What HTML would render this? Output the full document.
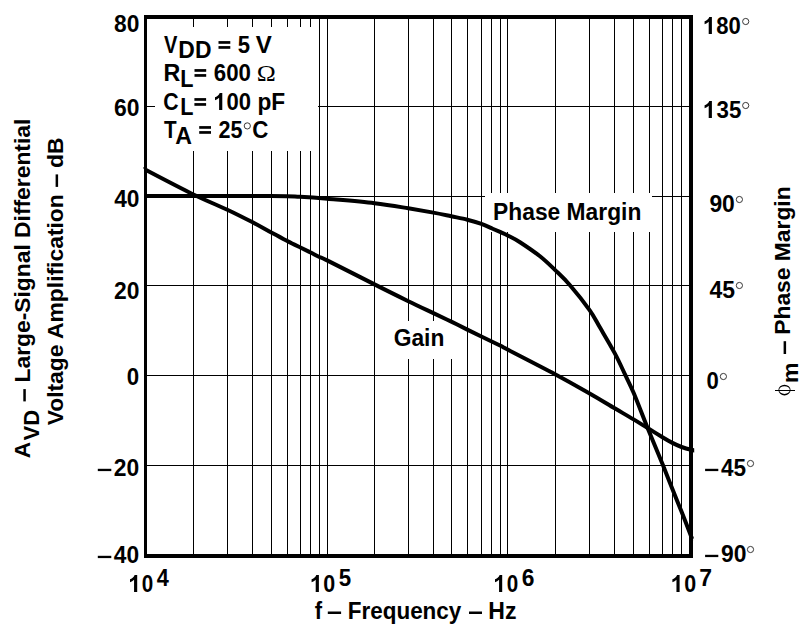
<!DOCTYPE html>
<html><head><meta charset="utf-8"><title>Chart</title>
<style>
html,body{margin:0;padding:0;background:#fff;}
body{width:804px;height:635px;overflow:hidden;}
svg{display:block;}
text{font-family:"Liberation Sans",sans-serif;font-weight:bold;font-size:22px;fill:#000;}
text.sym{font-family:"Liberation Serif",serif;font-weight:normal;}
</style></head><body>
<svg width="804" height="635" viewBox="0 0 804 635">
<defs>
<clipPath id="cc"><rect x="144" y="0" width="550.2" height="635"/></clipPath>

</defs>
<rect x="0" y="0" width="804" height="635" fill="#fff"/>
<g shape-rendering="crispEdges" fill="#000">
<rect x="193" y="17" width="1" height="539"/>
<rect x="227" y="17" width="1" height="539"/>
<rect x="252" y="17" width="1" height="539"/>
<rect x="271" y="17" width="1" height="539"/>
<rect x="287" y="17" width="1" height="539"/>
<rect x="300" y="17" width="1" height="539"/>
<rect x="310" y="17" width="1" height="539"/>
<rect x="319" y="17" width="1" height="539"/>
<rect x="327" y="17" width="1" height="539"/>
<rect x="374" y="17" width="1" height="539"/>
<rect x="408" y="17" width="1" height="539"/>
<rect x="433" y="17" width="1" height="539"/>
<rect x="451" y="17" width="1" height="539"/>
<rect x="467" y="17" width="1" height="539"/>
<rect x="481" y="17" width="1" height="539"/>
<rect x="491" y="17" width="1" height="539"/>
<rect x="500" y="17" width="1" height="539"/>
<rect x="507" y="17" width="1" height="539"/>
<rect x="555" y="17" width="1" height="539"/>
<rect x="589" y="17" width="1" height="539"/>
<rect x="614" y="17" width="1" height="539"/>
<rect x="633" y="17" width="1" height="539"/>
<rect x="649" y="17" width="1" height="539"/>
<rect x="662" y="17" width="1" height="539"/>
<rect x="672" y="17" width="1" height="539"/>
<rect x="681" y="17" width="1" height="539"/>
<rect x="146" y="106" width="545" height="1"/>
<rect x="146" y="196" width="545" height="1"/>
<rect x="146" y="285" width="545" height="1"/>
<rect x="146" y="375" width="545" height="1"/>
<rect x="146" y="465" width="545" height="1"/>
</g>
<g shape-rendering="crispEdges" fill="#fff">
<rect x="155" y="27" width="163" height="124"/>
<rect x="485" y="193" width="167" height="39"/>
<rect x="380" y="321" width="80" height="38"/>
</g>
<g fill="none" stroke="#000" stroke-width="4" stroke-linejoin="round" clip-path="url(#cc)">
<path d="M141.0,167.5 C149.7,172.0 179.0,187.5 193.4,194.5 C207.8,201.5 217.5,205.1 227.3,209.7 C237.1,214.3 244.9,218.3 252.2,222.1 C259.5,225.9 265.4,229.4 271.3,232.6 C277.2,235.8 282.5,238.5 287.3,241.0 C292.1,243.5 296.5,245.6 300.4,247.5 C304.3,249.4 307.4,250.9 310.6,252.5 C313.8,254.1 316.6,255.7 319.4,257.0 C322.2,258.4 318.4,256.0 327.6,260.6 C336.8,265.2 361.1,277.6 374.5,284.4 C387.9,291.2 398.5,296.4 408.3,301.2 C418.1,306.0 426.2,309.7 433.4,313.1 C440.6,316.5 445.6,318.9 451.3,321.6 C457.0,324.4 459.2,325.6 467.3,329.6 C475.4,333.6 493.3,342.2 500.0,345.5 C506.7,348.8 498.2,344.7 507.5,349.5 C516.8,354.3 541.8,367.1 555.5,374.4 C569.2,381.7 579.7,387.8 589.6,393.4 C599.5,399.0 607.4,404.0 614.7,408.3 C622.0,412.6 628.1,416.1 633.6,419.4 C639.1,422.7 642.7,425.0 647.6,428.0 C652.5,431.0 658.8,435.0 662.9,437.5 C667.0,440.0 669.3,441.3 672.4,442.9 C675.5,444.5 678.5,445.9 681.6,447.0 C684.7,448.1 688.6,449.2 691.0,449.8 C693.4,450.4 695.2,450.6 696.0,450.8"/>
<path d="M145.0,196.0 C166.0,196.0 245.2,195.9 271.0,196.0 C296.8,196.1 290.6,196.3 300.0,196.8 C309.4,197.3 315.1,197.7 327.5,198.8 C339.9,199.9 361.0,201.6 374.5,203.2 C388.0,204.8 398.5,206.7 408.3,208.3 C418.1,209.9 426.2,211.3 433.4,212.6 C440.6,213.9 445.6,215.1 451.3,216.3 C457.0,217.5 462.3,218.4 467.3,219.7 C472.3,221.0 477.4,222.5 481.4,223.9 C485.4,225.3 488.2,226.8 491.4,228.2 C494.6,229.6 497.9,231.0 500.6,232.2 C503.3,233.4 504.4,233.7 507.6,235.4 C510.8,237.1 514.6,238.7 520.0,242.2 C525.4,245.7 534.1,251.6 540.0,256.3 C545.9,261.0 550.5,265.6 555.5,270.4 C560.5,275.2 564.3,278.6 570.0,285.2 C575.7,291.8 584.6,303.0 589.6,310.1 C594.6,317.2 595.8,320.4 600.0,327.6 C604.2,334.8 610.5,345.3 614.7,353.1 C618.9,360.9 621.9,367.8 625.0,374.4 C628.1,381.0 629.8,383.9 633.6,392.8 C637.4,401.7 642.7,416.0 647.6,428.0 C652.5,440.0 658.8,454.8 662.9,465.0 C667.0,475.2 669.3,481.3 672.4,489.1 C675.5,496.9 678.5,504.0 681.6,511.8 C684.7,519.6 689.2,531.4 691.0,535.9 C692.8,540.4 692.0,538.5 692.2,539.0"/>
</g>
<path d="M144.2,166.9 L143.0,167.8 L144.2,169.6 Z" fill="#000"/>
<g shape-rendering="crispEdges" fill="#000">
<rect x="144" y="15" width="549" height="4"/>
<rect x="144" y="554" width="549" height="4"/>
<rect x="144" y="15" width="3" height="543"/>
<rect x="689" y="15" width="4" height="543"/>
</g>
<g>
<text transform="matrix(1.0361,0,0,1.1200,114.11,32.00)">80</text>
<text transform="matrix(1.0412,0,0,1.1200,113.99,116.00)">60</text>
<text transform="matrix(1.0340,0,0,1.1200,114.16,207.00)">40</text>
<text transform="matrix(1.0386,0,0,1.1200,114.05,299.00)">20</text>
<text transform="matrix(1.0144,0,0,1.1200,126.71,385.00)">0</text>
<rect x="97.80" y="468.80" width="13.50" height="2.30" fill="#000"/>
<text transform="matrix(1.0386,0,0,1.1200,113.75,476.00)">20</text>
<rect x="97.80" y="555.80" width="13.50" height="2.30" fill="#000"/>
<text transform="matrix(1.0340,0,0,1.1200,113.86,563.00)">40</text>
<path transform="matrix(0.011335,0,0,-0.011549,702.76,34.00)" d="M806,0 H525 V1059 Q371,915 162,846 V1101 Q272,1137 401,1237.5 Q530,1338 578,1472 H806 Z" fill="#000"/>
<text transform="matrix(1.0033,0,0,1.1200,716.28,34.00)">80</text>
<circle cx="745.7" cy="21.5" r="3.1" fill="none" stroke="#222" stroke-width="0.9"/>
<path transform="matrix(0.011335,0,0,-0.011549,702.76,118.00)" d="M806,0 H525 V1059 Q371,915 162,846 V1101 Q272,1137 401,1237.5 Q530,1338 578,1472 H806 Z" fill="#000"/>
<text transform="matrix(1.0120,0,0,1.1200,716.50,118.00)">35</text>
<circle cx="745.7" cy="105.5" r="3.1" fill="none" stroke="#222" stroke-width="0.9"/>
<text transform="matrix(1.0408,0,0,1.1200,709.40,212.00)">90</text>
<circle cx="739.4" cy="199.5" r="3.1" fill="none" stroke="#222" stroke-width="0.9"/>
<text transform="matrix(1.0432,0,0,1.1200,709.56,298.00)">45</text>
<circle cx="739.4" cy="285.5" r="3.1" fill="none" stroke="#222" stroke-width="0.9"/>
<text transform="matrix(1.0048,0,0,1.1200,706.42,389.00)">0</text>
<circle cx="723.4" cy="376.5" r="3.1" fill="none" stroke="#222" stroke-width="0.9"/>
<rect x="705.10" y="468.80" width="13.20" height="2.30" fill="#000"/>
<text transform="matrix(1.0262,0,0,1.1200,721.06,476.00)">45</text>
<circle cx="750.5" cy="463.5" r="3.1" fill="none" stroke="#222" stroke-width="0.9"/>
<rect x="705.10" y="554.80" width="13.20" height="2.30" fill="#000"/>
<text transform="matrix(1.0408,0,0,1.1200,721.00,562.00)">90</text>
<circle cx="750.5" cy="549.5" r="3.1" fill="none" stroke="#222" stroke-width="0.9"/>
<path transform="matrix(0.011180,0,0,-0.011549,128.19,592.00)" d="M806,0 H525 V1059 Q371,915 162,846 V1101 Q272,1137 401,1237.5 Q530,1338 578,1472 H806 Z" fill="#000"/>
<text transform="matrix(0.9378,0,0,1.1200,141.87,592.00)">0</text>
<text transform="matrix(0.9856,0,0,1.1200,156.87,586.00)">4</text>
<path transform="matrix(0.011335,0,0,-0.011549,309.76,592.00)" d="M806,0 H525 V1059 Q371,915 162,846 V1101 Q272,1137 401,1237.5 Q530,1338 578,1472 H806 Z" fill="#000"/>
<text transform="matrix(0.9761,0,0,1.1200,323.14,592.00)">0</text>
<text transform="matrix(1.0142,0,0,1.1200,338.63,586.00)">5</text>
<path transform="matrix(0.011180,0,0,-0.011549,493.19,592.00)" d="M806,0 H525 V1059 Q371,915 162,846 V1101 Q272,1137 401,1237.5 Q530,1338 578,1472 H806 Z" fill="#000"/>
<text transform="matrix(0.9378,0,0,1.1200,506.87,592.00)">0</text>
<text transform="matrix(1.0363,0,0,1.1200,521.75,586.00)">6</text>
<path transform="matrix(0.011180,0,0,-0.011549,670.59,592.00)" d="M806,0 H525 V1059 Q371,915 162,846 V1101 Q272,1137 401,1237.5 Q530,1338 578,1472 H806 Z" fill="#000"/>
<text transform="matrix(0.9761,0,0,1.1200,684.24,592.00)">0</text>
<text transform="matrix(1.0445,0,0,1.1200,699.22,586.00)">7</text>
<text transform="matrix(1.0021,0,0,1.1200,314.71,619.00)">f</text>
<rect x="327.80" y="611.50" width="13.30" height="2.50" fill="#000"/>
<text transform="matrix(1.0208,0,0,1.1200,347.78,619.00)">Frequency</text>
<rect x="469.00" y="611.50" width="13.00" height="2.50" fill="#000"/>
<text transform="matrix(1.0471,0,0,1.1200,488.35,619.00)">Hz</text>
<text transform="matrix(1.0374,0,0,1.1200,493.06,220.00)">Phase Margin</text>
<text transform="matrix(1.0365,0,0,1.1200,393.69,346.00)">Gain</text>
<text transform="matrix(0.9126,0,0,1.1200,164.05,53.00)">V</text>
<text transform="matrix(1.0419,0,0,1.1200,178.35,58.00)">DD</text>
<rect x="218.50" y="41.10" width="11.80" height="2.70" fill="#000"/><rect x="218.50" y="46.10" width="11.80" height="2.70" fill="#000"/>
<text transform="matrix(1.0050,0,0,1.1200,237.64,53.00)">5</text>
<text transform="matrix(1.0937,0,0,1.1200,255.82,53.00)">V</text>
<text transform="matrix(1.0564,0,0,1.1200,163.43,81.00)">R</text>
<text transform="matrix(0.9845,0,0,1.1200,180.14,87.00)">L</text>
<rect x="194.50" y="69.10" width="11.70" height="2.70" fill="#000"/><rect x="194.50" y="74.10" width="11.70" height="2.70" fill="#000"/>
<text transform="matrix(1.0120,0,0,1.1200,213.77,81.00)">600</text>
<text class="sym" style="font-size:25.5px" transform="matrix(1.0049,0,0,0.9400,256.75,81.00)">Ω</text>
<text transform="matrix(0.9646,0,0,1.1200,163.25,110.00)">C</text>
<text transform="matrix(0.9845,0,0,1.1200,180.14,115.00)">L</text>
<rect x="194.40" y="98.10" width="11.70" height="2.70" fill="#000"/><rect x="194.40" y="103.10" width="11.70" height="2.70" fill="#000"/>
<path transform="matrix(0.011335,0,0,-0.011549,213.16,110.00)" d="M806,0 H525 V1059 Q371,915 162,846 V1101 Q272,1137 401,1237.5 Q530,1338 578,1472 H806 Z" fill="#000"/>
<text transform="matrix(1.0018,0,0,1.1200,226.42,110.00)">00</text>
<text transform="matrix(1.0308,0,0,1.1200,257.43,110.00)">pF</text>
<text transform="matrix(0.9399,0,0,1.1200,163.89,138.00)">T</text>
<text transform="matrix(1.0516,0,0,1.1200,175.32,144.00)">A</text>
<rect x="199.20" y="126.10" width="11.80" height="2.70" fill="#000"/><rect x="199.20" y="131.10" width="11.80" height="2.70" fill="#000"/>
<text transform="matrix(0.9807,0,0,1.1200,218.54,138.00)">25</text>
<circle cx="247.3" cy="125.9" r="3.1" fill="none" stroke="#222" stroke-width="0.9"/>
<text transform="matrix(1.0132,0,0,1.1200,252.21,138.00)">C</text>
<text transform="matrix(0,-1.0380,1.0200,0,30.20,458.27)">A</text>
<text transform="matrix(0,-1.0075,1.0200,0,38.80,440.47)">VD</text>
<rect x="23.30" y="389.10" width="2.50" height="12.30" fill="#000"/>
<text transform="matrix(0,-1.0377,1.0200,0,30.20,382.44)">Large-Signal Differential</text>
<text transform="matrix(0,-1.0399,1.0200,0,62.50,425.37)">Voltage Amplification</text>
<rect x="55.60" y="174.40" width="2.50" height="12.50" fill="#000"/>
<text transform="matrix(0,-1.0421,1.0200,0,62.50,167.92)">dB</text>
<path fill="#000" fill-rule="evenodd" d="M778.4,390.1 a6.1,5.3 0 1,0 12.2,0 a6.1,5.3 0 1,0 -12.2,0 Z M779.2,390.1 a5.3,3.9 0 1,0 10.6,0 a5.3,3.9 0 1,0 -10.6,0 Z"/><rect x="774.5" y="390" width="20.5" height="1" fill="#000" shape-rendering="crispEdges"/>
<text transform="matrix(0,-1.0492,1.0200,0,797.80,383.10)">m</text>
<rect x="783.60" y="341.20" width="2.50" height="12.80" fill="#000"/>
<text transform="matrix(0,-1.0381,1.0200,0,790.40,334.74)">Phase Margin</text>
</g>
</svg></body></html>
